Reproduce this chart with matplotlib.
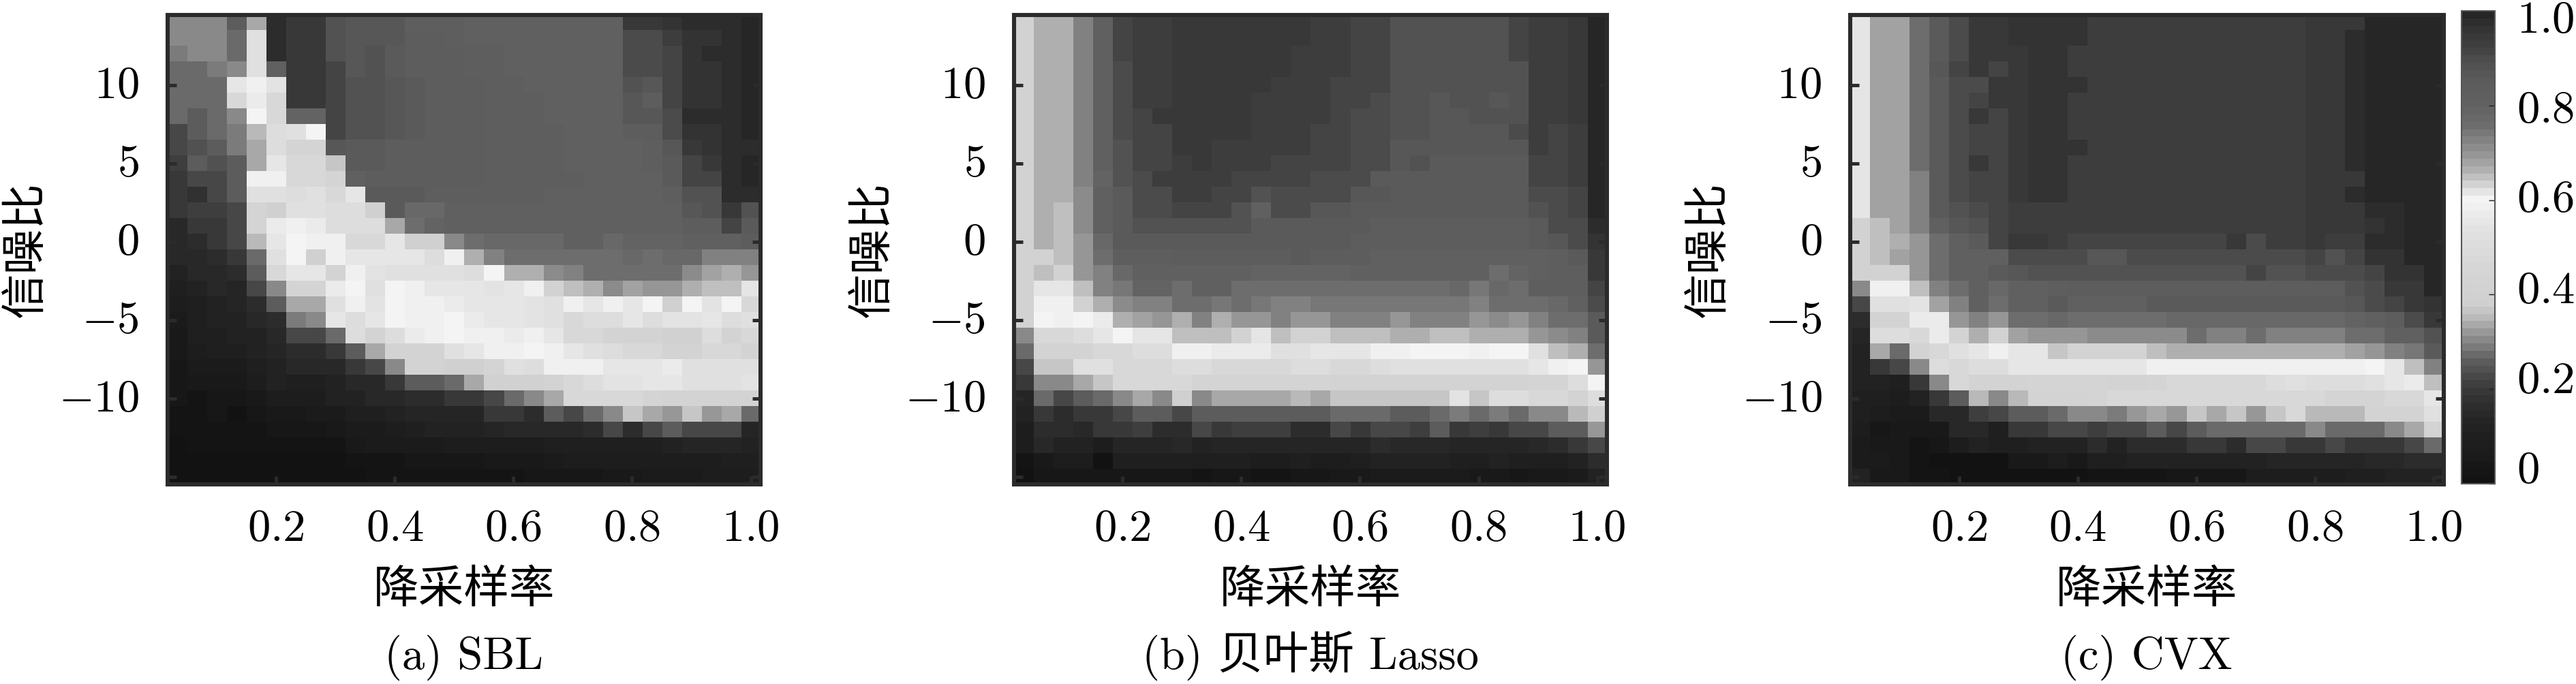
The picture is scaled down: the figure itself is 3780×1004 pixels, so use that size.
from __future__ import annotations

import matplotlib

matplotlib.use("Agg")
import matplotlib.pyplot as plt
import numpy as np
from matplotlib.colors import LinearSegmentedColormap
from matplotlib.transforms import ScaledTranslation

WIDTH = 3780
HEIGHT = 1004
DPI = 300

RATE = [k / 30 for k in range(1, 31)]
SNR = list(range(14, -16, -1))

X_TICKS = [0.2, 0.4, 0.6, 0.8, 1.0]
X_LABELS = ["$0.2$", "$0.4$", "$0.6$", "$0.8$", "$1.0$"]
Y_TICKS = [-15, -10, -5, 0, 5, 10]
Y_LABELS = ["", "$-10$", "$-5$", "$0$", "$5$", "$10$"]
CBAR_TICKS = [0, 0.2, 0.4, 0.6, 0.8, 1.0]
CBAR_LABELS = ["$0$", "$0.2$", "$0.4$", "$0.6$", "$0.8$", "$1.0$"]
CBAR_LABEL_ROWS = [690, 558, 426, 292, 161, 29]

CMAP_POS = [0, 0.05, 0.10, 0.14, 0.17, 0.19, 0.21, 0.235, 0.26, 0.275, 0.29, 0.31, 0.325, 0.34, 0.355, 0.38,
            0.45, 0.50, 0.55, 0.58, 0.605, 0.62, 0.64, 0.66, 0.68, 0.70, 0.72, 0.74, 0.76, 0.80, 0.85, 0.88,
            0.90, 0.93, 0.97, 1.0]
CMAP_GRAY = [18, 26, 32, 40, 48, 56, 64, 80, 96, 112, 128, 144, 160, 176, 192, 208,
             213, 220, 229, 238, 245, 228, 204, 181, 165, 149, 136, 124, 110, 98, 92, 86,
             78, 64, 51, 38]

SBL = [
    [31,31,31,26,34,98,94,94,88,87, 87,87,82,82,82,81,81,81,81,81, 81,81,81,94,94,96,97,97,98,100],
    [30,30,31,27,52,98,94,94,88,87, 87,87,83,83,82,81,81,81,81,81, 81,81,81,90,90,93,96,96,98,100],
    [29,30,30,28,53,98,94,94,88,87, 89,85,84,83,83,82,82,81,81,81, 81,81,81,90,90,91,96,97,98,100],
    [28,28,29,31,53,80,94,94,91,87, 89,85,84,83,83,82,82,81,81,81, 81,81,81,90,90,91,96,96,98,100],
    [27,27,28,55,58,54,94,94,91,89, 89,86,85,84,84,83,82,82,81,81, 81,81,81,88,86,91,96,96,98,100],
    [27,27,27,47,57,47,94,94,91,89, 89,86,85,84,84,83,82,82,82,81, 81,81,81,86,84,91,96,96,98,100],
    [27,25,27,31,60,48,79,79,91,89, 89,86,85,84,84,83,82,82,82,81, 81,81,81,87,86,90,97,97,98,100],
    [23,25,27,29,35,50,52,60,91,89, 89,86,85,84,84,83,82,82,82,82, 81,81,81,84,84,90,96,96,98,100],
    [22,24,25,29,33,50,45,45,86,85, 85,84,84,84,83,83,82,82,82,82, 81,81,81,81,82,86,94,96,98,98],
    [21,26,24,26,34,55,47,47,36,85, 85,84,84,84,83,83,82,82,82,82, 81,81,81,81,82,85,92,94,98,99],
    [20,23,23,26,58,59,47,47,45,81, 84,84,84,84,83,83,82,82,82,82, 82,81,81,81,81,85,91,92,98,99],
    [19,18,22,26,52,52,50,52,47,56, 85,85,85,82,82,82,82,82,82,81, 81,81,81,81,81,82,88,89,97,97],
    [19,21,21,22,45,38,52,52,50,50, 38,85,78,78,80,81,81,81,81,80, 80,80,80,81,81,81,86,89,94,89],
    [15,19,19,23,45,57,58,57,50,50, 50,33,76,79,80,80,81,81,81,81, 81,81,81,81,81,81,84,84,92,85],
    [15,17,20,23,35,55,60,58,58,47, 47,56,38,38,31,76,77,77,77,78, 80,80,77,79,79,79,80,80,80,84],
    [15,15,16,20,27,52,60,38,59,55, 55,56,55,50,58,66,73,76,76,76, 76,76,76,77,76,77,78,73,73,73],
    [12,15,15,17,25,47,56,55,43,58, 54,52,52,52,52,50,60,66,66,71, 73,75,75,75,75,75,71,68,66,69],
    [10,12,15,14,22,31,45,45,57,60, 52,60,58,55,55,56,54,56,58,64, 65,67,71,68,69,70,66,65,65,62],
    [8,10,11,14,17,26,34,34,52,58, 54,60,58,59,57,56,55,55,54,52, 58,56,59,56,60,38,60,54,60,47],
    [7,10,11,12,15,17,29,30,55,50, 55,60,58,59,60,57,56,56,54,52, 47,50,50,55,50,54,54,56,50,52],
    [5,10,10,12,12,15,23,23,27,50, 43,50,57,58,60,59,58,57,58,55, 47,47,43,43,43,40,40,50,43,47],
    [5,8,10,10,12,14,17,17,20,26, 33,43,43,43,52,55,58,58,60,58, 56,52,50,47,47,43,43,47,47,43],
    [4,7,7,7,10,12,15,15,15,19, 23,31,43,43,38,38,45,52,50,58, 58,58,56,56,56,57,52,52,52,52],
    [4,5,5,5,8,12,10,10,12,15, 15,20,26,26,28,34,40,40,40,43, 47,50,54,54,55,55,52,52,52,54],
    [4,2,4,4,5,8,8,8,12,12, 15,15,17,17,19,20,23,28,31,33, 47,47,47,47,45,43,43,43,43,43],
    [3,3,4,0,4,5,5,7,7,10, 10,12,14,14,14,14,19,20,17,26, 23,28,30,36,33,32,36,32,33,28],
    [3,3,3,3,2,4,4,4,5,7, 7,8,10,12,12,12,14,15,15,15, 15,17,23,17,22,26,23,23,23,14],
    [0,2,2,2,2,2,2,2,2,5, 7,7,7,7,8,8,8,8,8,10, 10,10,10,10,10,12,14,14,14,12],
    [0,0,0,0,0,0,0,0,0,2, 2,2,4,4,4,4,5,5,5,7, 8,8,8,8,8,8,8,8,10,10],
    [0,0,0,0,0,0,0,0,0,0, 2,2,2,2,2,2,2,2,4,4, 4,4,5,5,7,7,7,8,8,8],
]

BAYES_LASSO = [
    [63,66,66,72,80,92,93,93,95,95, 94,94,94,94,94,93,93,91,91,89, 89,89,89,89,89,91,93,93,95,100],
    [63,66,66,72,80,92,93,93,95,95, 94,94,94,94,94,93,93,91,91,89, 89,89,89,89,89,91,93,93,95,100],
    [63,66,66,72,80,92,93,93,95,95, 94,94,94,94,93,93,93,91,91,89, 89,89,89,89,89,91,93,93,95,100],
    [63,66,66,72,80,90,93,93,95,95, 94,94,94,94,93,93,93,91,91,89, 89,89,89,89,89,89,93,93,95,100],
    [63,66,66,72,80,90,93,93,94,94, 94,94,94,93,93,93,91,91,91,89, 89,89,89,89,89,89,93,93,95,100],
    [63,66,66,72,80,90,93,93,94,94, 94,94,93,93,93,93,91,91,90,89, 89,87,89,89,87,89,93,93,95,100],
    [63,66,66,72,80,90,92,94,94,94, 94,94,93,93,93,93,91,90,90,89, 89,87,87,89,89,89,93,93,95,100],
    [63,66,66,72,80,90,92,92,94,94, 94,94,93,93,93,92,91,90,90,89, 89,87,87,87,87,90,93,91,93,100],
    [63,66,66,72,80,89,92,92,94,94, 93,93,93,93,93,91,91,90,90,87, 87,87,87,87,87,87,93,91,93,100],
    [63,66,66,72,80,89,92,92,93,95, 93,93,93,91,91,91,91,90,90,87, 89,85,85,85,85,85,91,91,93,100],
    [63,66,66,72,79,88,90,93,93,93, 93,91,91,91,91,90,90,90,85,85, 85,85,85,85,85,85,91,91,93,99],
    [63,66,66,71,80,85,90,90,93,93, 91,91,88,90,90,90,90,87,87,85, 85,85,85,85,85,85,90,90,92,99],
    [63,66,65,71,80,85,90,90,92,92, 92,89,81,90,90,87,86,85,85,85, 85,85,85,85,85,85,88,90,92,99],
    [63,66,65,71,80,85,88,88,88,88, 88,88,85,85,85,85,85,85,84,84, 84,84,84,84,84,84,85,90,90,98],
    [63,66,65,70,77,85,85,85,85,85, 85,85,85,85,85,85,85,84,84,84, 84,84,84,84,84,84,85,86,90,96],
    [63,64,65,70,75,82,82,82,83,83, 83,83,83,83,85,83,83,83,81,81, 81,81,81,81,81,81,81,82,85,95],
    [63,65,63,70,73,78,80,80,81,81, 80,80,79,79,79,79,79,81,81,81, 81,81,81,81,76,79,80,82,82,94],
    [63,55,55,65,72,74,79,79,76,80, 80,75,76,76,75,75,76,76,75,75, 75,75,78,74,78,75,82,82,82,92],
    [63,58,58,63,66,71,72,72,76,76, 74,76,74,73,73,74,74,74,74,74, 74,74,74,72,75,75,76,78,80,90],
    [63,60,58,60,57,66,68,70,67,72, 67,70,70,72,70,70,72,72,72,70, 72,72,72,69,71,69,73,75,76,85],
    [31,47,47,50,56,60,62,62,65,65, 65,63,62,65,63,63,65,65,65,66, 66,65,65,66,66,66,70,71,73,85],
    [27,43,43,43,47,47,50,50,58,58, 57,57,57,52,52,56,56,56,58,59, 60,60,60,58,60,60,52,65,66,75],
    [22,36,36,52,52,47,47,47,50,50, 47,47,47,47,50,50,47,47,50,52, 52,52,52,52,52,52,55,58,60,70],
    [19,31,31,34,36,47,47,47,47,45, 45,45,45,45,45,45,43,43,43,43, 43,43,43,43,43,43,45,45,50,60],
    [14,27,23,25,28,30,33,31,38,31, 33,33,33,33,35,33,36,36,36,36, 36,36,54,36,50,50,47,47,43,50],
    [12,20,17,19,19,23,25,26,23,25, 26,26,26,25,26,25,27,27,27,25, 26,27,29,27,29,27,30,31,35,38],
    [8,17,16,15,19,19,21,17,17,22, 19,21,21,21,17,17,22,19,22,22, 21,25,19,21,19,22,23,25,26,32],
    [8,15,12,12,8,14,14,14,15,12, 14,14,14,14,14,14,14,14,17,15, 15,15,14,14,14,14,15,17,19,23],
    [2,5,8,8,0,10,10,10,10,10, 10,10,8,8,10,8,8,10,12,12, 12,12,10,10,12,10,10,10,12,17],
    [0,4,4,4,4,4,4,4,4,2, 4,4,2,2,4,4,5,5,7,7, 7,7,7,5,5,4,5,5,7,12],
]

CVX = [
    [62,68,68,75,85,90,94,94,96,96, 96,96,93,93,93,93,93,93,93,93, 93,93,93,94,94,94,99,99,100,100],
    [62,68,68,75,85,90,94,94,96,96, 96,96,93,93,93,93,93,93,93,93, 93,93,93,94,94,97,99,99,100,100],
    [62,68,68,75,85,90,94,94,94,96, 96,93,93,93,93,93,93,93,93,93, 93,93,93,94,94,97,99,100,100,100],
    [62,68,68,75,86,92,94,92,94,96, 96,93,93,93,93,93,93,93,93,93, 93,93,93,94,94,97,99,100,100,100],
    [62,68,68,75,85,90,90,94,94,96, 96,96,93,93,93,93,93,93,93,93, 93,93,93,94,94,97,100,100,100,100],
    [62,68,68,75,85,90,91,94,94,96, 96,93,93,93,93,93,93,93,93,93, 93,93,93,94,94,97,100,100,100,100],
    [62,68,68,75,85,90,94,91,94,96, 96,93,93,93,93,93,93,93,93,93, 93,93,93,94,94,97,100,100,100,100],
    [62,68,68,75,85,90,91,91,94,96, 96,93,93,93,93,93,93,93,93,93, 93,93,93,94,94,97,100,100,100,100],
    [62,68,68,75,85,90,91,91,94,96, 96,96,93,93,93,93,93,93,93,93, 93,93,93,94,94,97,100,100,100,100],
    [62,68,68,75,85,90,94,91,94,96, 96,93,93,93,93,93,93,93,93,93, 93,93,93,94,94,97,100,100,100,100],
    [62,68,68,72,85,90,91,92,94,96, 96,93,93,93,93,93,93,93,93,93, 93,93,93,94,94,94,100,100,100,100],
    [62,68,68,72,85,90,91,92,94,96, 96,93,93,93,93,93,93,93,93,93, 93,93,93,94,94,97,100,100,100,100],
    [62,68,68,72,85,88,90,92,93,93, 93,93,93,93,93,93,93,93,93,93, 93,93,93,94,94,94,98,98,100,100],
    [63,65,68,72,80,86,88,92,93,93, 93,93,93,93,93,93,93,93,93,93, 93,93,93,94,94,94,96,98,100,100],
    [63,65,66,70,76,80,85,91,95,95, 93,91,91,91,91,91,91,91,91,95, 90,93,93,94,93,93,98,98,100,100],
    [63,65,68,70,76,80,80,80,90,90, 90,90,87,87,90,90,90,90,90,90, 90,90,90,92,88,92,96,96,99,100],
    [63,63,63,69,75,80,80,85,87,88, 88,88,88,88,88,88,88,88,88,88, 92,88,88,90,90,90,91,96,96,99],
    [30,59,58,65,73,76,80,78,80,80, 82,84,84,84,84,84,84,84,84,84, 84,84,84,84,84,88,90,94,95,99],
    [23,52,52,54,68,73,80,76,80,80, 85,80,80,80,80,85,85,85,85,85, 85,85,85,85,85,86,90,92,94,96],
    [17,43,43,57,57,70,73,70,76,76, 78,76,76,76,76,76,77,78,78,78, 78,78,78,78,78,79,80,84,90,94],
    [14,50,50,47,57,43,66,64,68,69, 70,70,71,71,71,71,71,75,72,72, 75,73,73,73,73,75,76,80,80,88],
    [12,33,27,43,47,52,56,58,55,55, 36,43,43,43,43,65,66,66,66,67, 67,66,66,66,66,68,70,72,74,85],
    [12,19,22,31,50,47,50,50,55,55, 55,55,56,56,56,58,58,58,58,58, 58,58,58,58,58,58,60,55,65,73],
    [12,12,10,20,31,47,43,43,43,45, 45,45,45,43,43,45,47,47,47,47, 47,50,52,50,50,50,52,55,57,65],
    [10,10,8,12,19,26,35,30,35,43, 43,43,45,47,47,47,47,47,47,47, 47,47,47,47,45,45,45,47,47,56],
    [10,8,7,7,15,15,21,22,26,26, 27,30,30,29,32,34,32,36,34,36, 32,36,47,35,35,35,43,43,43,52],
    [8,4,5,5,5,15,15,10,19,19, 22,23,21,23,23,25,23,26,27,27, 27,27,27,31,27,27,27,30,33,43],
    [7,5,5,2,4,8,12,10,10,12, 12,12,17,12,17,17,17,19,20,16, 22,23,20,20,22,20,20,20,23,28],
    [7,7,5,2,0,0,0,0,5,5, 8,5,10,10,12,12,12,12,12,12, 12,14,14,14,14,14,15,15,17,17],
    [12,5,5,2,2,0,0,0,0,0, 0,0,3,3,3,3,4,4,4,4, 8,8,8,8,8,10,10,12,12,12],
]

PANELS = [SBL, BAYES_LASSO, CVX]
PANEL_LEFT = [245.5, 1487.6, 2715.0]
CAPTIONS = ["(a) SBL", "(b) 贝叶斯 Lasso", "(c) CVX"]
XLABEL = "降采样率"
YLABEL = "信噪比"

FRAME = "#2b2b2b"
CJK = "Noto Sans CJK SC"


def px_axes(fig, left, top, right, bottom):
    return fig.add_axes([left / WIDTH, 1 - bottom / HEIGHT, (right - left) / WIDTH, (bottom - top) / HEIGHT])


def draw_panel(fig, left, values, cmap, caption):
    ax = px_axes(fig, left, 21.6, left + 870.6, 711)
    half_x = (RATE[1] - RATE[0]) / 2
    extent = [RATE[0] - half_x, RATE[-1] + half_x, SNR[-1] - 0.5, SNR[0] + 0.5]
    im = ax.imshow(np.array(values) / 100, cmap=cmap, vmin=0, vmax=1, origin="upper",
                   extent=extent, aspect="auto", interpolation="nearest")
    ax.set_xticks(X_TICKS, X_LABELS)
    ax.set_yticks(Y_TICKS, Y_LABELS)
    ax.tick_params(axis="x", direction="in", length=3.0, width=1.2, color=FRAME, pad=7.5, labelsize=16)
    ax.tick_params(axis="y", direction="in", length=3.0, width=1.2, color=FRAME, pad=10, labelsize=16,
                   right=True)
    # the y labels sit a little above their ticks in the original
    lift = ScaledTranslation(0, 7 / DPI, fig.dpi_scale_trans)
    for label in ax.get_yticklabels():
        label.set_transform(label.get_transform() + lift)
    for spine in ax.spines.values():
        spine.set_linewidth(1.45)
        spine.set_color(FRAME)

    center = (left + 435.3) / WIDTH
    fig.text(center, 1 - 866 / HEIGHT, XLABEL, ha="center", va="center", fontsize=16, family=CJK)
    fig.text((left - 208) / WIDTH, 1 - 366 / HEIGHT, YLABEL, ha="center", va="center", rotation=90,
             fontsize=16, family=CJK)
    fig.text(center, 1 - 982 / HEIGHT, caption, ha="center", va="baseline", fontsize=16,
             family=["cmr10", CJK])
    return im


def draw_colorbar(fig, im):
    cax = px_axes(fig, 3612, 16, 3661, 710)
    cb = fig.colorbar(im, cax=cax)
    cb.set_ticks(CBAR_TICKS, labels=[""] * len(CBAR_TICKS))
    cax.tick_params(axis="y", direction="in", length=2.2, width=0.35, color="#222222", right=True)
    cb.outline.set_linewidth(0.5)
    cb.outline.set_edgecolor("#555555")
    for label, row in zip(CBAR_LABELS, CBAR_LABEL_ROWS):
        fig.text(3693 / WIDTH, 1 - row / HEIGHT, label, ha="left", va="center", fontsize=16)


def main():
    plt.rcParams["mathtext.fontset"] = "cm"
    plt.rcParams["font.family"] = ["DejaVu Sans", CJK]

    cmap = LinearSegmentedColormap.from_list(
        "snr_gray", [(p, (g / 255, g / 255, g / 255)) for p, g in zip(CMAP_POS, CMAP_GRAY)], N=64
    )
    fig = plt.figure(figsize=(WIDTH / DPI, HEIGHT / DPI), dpi=DPI)
    im = None
    for left, values, caption in zip(PANEL_LEFT, PANELS, CAPTIONS):
        im = draw_panel(fig, left, values, cmap, caption)
    draw_colorbar(fig, im)
    fig.savefig("out.png", dpi=DPI)


if __name__ == "__main__":
    main()
